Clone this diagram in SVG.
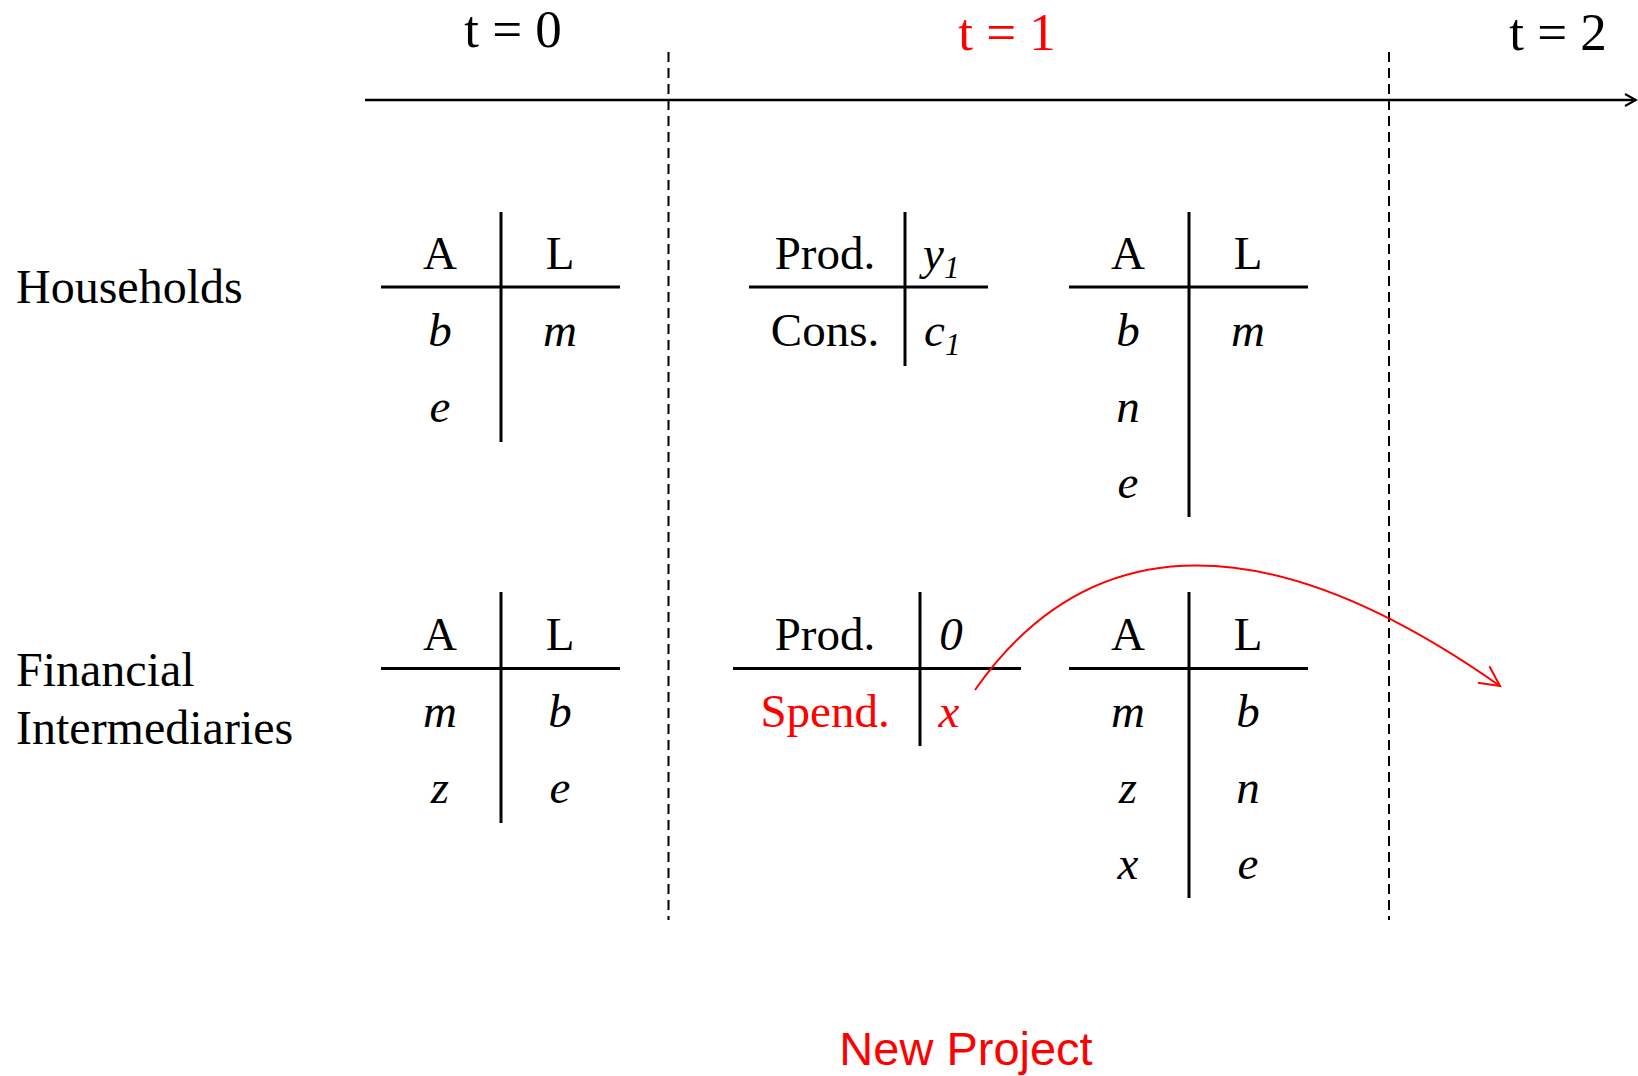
<svg xmlns="http://www.w3.org/2000/svg" width="1638" height="1076" viewBox="0 0 1638 1076">
<style>
.t{font-family:"Liberation Serif","Times New Roman",serif;font-size:47px;fill:#000}
.big{font-size:53px}
.lbl{font-size:48px}
.i{font-style:italic}
.c{text-anchor:middle}
.red{fill:#ff0000}
.sub{font-size:31px;font-style:italic}
.ln{stroke:#000;stroke-width:3;fill:none}
.dash{stroke:#000;stroke-width:2;stroke-dasharray:10 6;fill:none}
.np{font-family:"Liberation Sans",Arial,sans-serif;font-size:47px;fill:#ff0000;text-anchor:middle}
</style>
<defs>
<marker id="openArrow" markerWidth="14" markerHeight="14" refX="12" refY="7" orient="auto" markerUnits="userSpaceOnUse">
<path d="M1,1 L12,7 L1,13" fill="none" stroke="#000" stroke-width="2"/>
</marker>
<marker id="redArrow" markerWidth="26" markerHeight="26" refX="22" refY="13" orient="auto" markerUnits="userSpaceOnUse">
<path d="M2,3 L22,13 L2,23" fill="none" stroke="#ff0000" stroke-width="2"/>
</marker>
</defs>

<g id="timeline">
<line x1="365" y1="100" x2="1636" y2="100" stroke="#000" stroke-width="2.5" marker-end="url(#openArrow)"/>
<line class="dash" x1="668.5" y1="52" x2="668.5" y2="920"/>
<line class="dash" x1="1389" y1="52" x2="1389" y2="920"/>
<text class="t big c" x="513" y="47">t = 0</text>
<text class="t big c red" x="1007" y="50">t = 1</text>
<text class="t big c" x="1558" y="50">t = 2</text>
</g>

<g id="row-labels">
<text class="t lbl" x="16" y="303">Households</text>
<text class="t lbl" x="16" y="686">Financial</text>
<text class="t lbl" x="16" y="744">Intermediaries</text>
</g>

<g id="hh-t0">
<line class="ln" x1="501" y1="212" x2="501" y2="442"/>
<line class="ln" x1="381" y1="287" x2="620" y2="287"/>
<text class="t c" x="440" y="269">A</text>
<text class="t c" x="560" y="269">L</text>
<text class="t c i" x="440" y="346">b</text>
<text class="t c i" x="560" y="346">m</text>
<text class="t c i" x="440" y="422">e</text>
</g>

<g id="hh-t1-flow">
<line class="ln" x1="905" y1="212" x2="905" y2="366"/>
<line class="ln" x1="749" y1="287" x2="988" y2="287"/>
<text class="t c" x="825" y="269">Prod.</text>
<text class="t i" x="923" y="269">y<tspan class="sub" dy="9">1</tspan></text>
<text class="t c" x="825" y="346">Cons.</text>
<text class="t i" x="924" y="346">c<tspan class="sub" dy="9">1</tspan></text>
</g>

<g id="hh-t1-bs">
<line class="ln" x1="1189" y1="212" x2="1189" y2="517"/>
<line class="ln" x1="1069" y1="287" x2="1308" y2="287"/>
<text class="t c" x="1128" y="269">A</text>
<text class="t c" x="1248" y="269">L</text>
<text class="t c i" x="1128" y="346">b</text>
<text class="t c i" x="1248" y="346">m</text>
<text class="t c i" x="1128" y="422">n</text>
<text class="t c i" x="1128" y="498">e</text>
</g>

<g id="fi-t0">
<line class="ln" x1="501" y1="592" x2="501" y2="823"/>
<line class="ln" x1="381" y1="668.5" x2="620" y2="668.5"/>
<text class="t c" x="440" y="650">A</text>
<text class="t c" x="560" y="650">L</text>
<text class="t c i" x="440" y="727">m</text>
<text class="t c i" x="560" y="727">b</text>
<text class="t c i" x="440" y="803">z</text>
<text class="t c i" x="560" y="803">e</text>
</g>

<g id="fi-t1-flow">
<line class="ln" x1="920" y1="592" x2="920" y2="746"/>
<line class="ln" x1="733" y1="668.5" x2="1021" y2="668.5"/>
<text class="t c" x="825" y="650">Prod.</text>
<text class="t c i" x="951" y="650">0</text>
<text class="t c red" x="825" y="727">Spend.</text>
<text class="t c i red" x="949" y="727">x</text>
</g>

<g id="fi-t1-bs">
<line class="ln" x1="1189" y1="592" x2="1189" y2="898"/>
<line class="ln" x1="1069" y1="668.5" x2="1308" y2="668.5"/>
<text class="t c" x="1128" y="650">A</text>
<text class="t c" x="1248" y="650">L</text>
<text class="t c i" x="1128" y="727">m</text>
<text class="t c i" x="1248" y="727">b</text>
<text class="t c i" x="1128" y="803">z</text>
<text class="t c i" x="1248" y="803">n</text>
<text class="t c i" x="1128" y="879">x</text>
<text class="t c i" x="1248" y="879">e</text>
</g>

<g id="connectors">
<path d="M975,690 C1080,540 1250,510 1500,686" fill="none" stroke="#ff0000" stroke-width="2" marker-end="url(#redArrow)"/>
</g>

<g id="new-project">
<text class="np" x="966" y="1065">New Project</text>
</g>
</svg>
